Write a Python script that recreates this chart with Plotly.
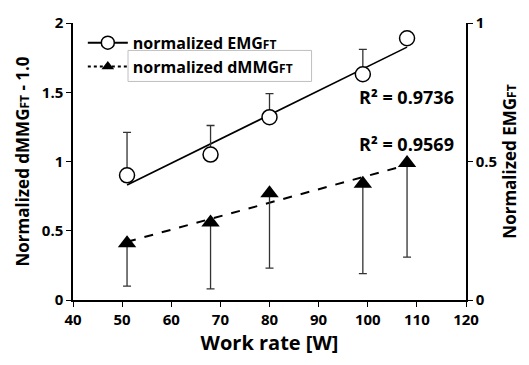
import plotly.graph_objects as go

# ---- data ----
work_rate = [51, 68, 80, 99, 108]
emg_norm = [0.45, 0.525, 0.66, 0.815, 0.945]          # right axis
emg_err_up = [0.155, 0.105, 0.085, 0.09, 0.0]
dmmg_norm = [0.41, 0.56, 0.77, 0.84, 0.99]            # left axis
dmmg_err_down = [0.31, 0.48, 0.54, 0.65, 0.68]
trend_x = [51, 108]
emg_trend = [0.415, 0.913]
dmmg_trend = [0.42, 0.975]
r2_labels = ["R² = 0.9736", "R² = 0.9569"]
x_ticks = [40, 50, 60, 70, 80, 90, 100, 110, 120]
y1_ticks = [0, 0.5, 1, 1.5, 2]
y2_ticks = [0, 0.5, 1]

FONT = "Open Sans"
sub = lambda s, fs: f"<span style='font-size:{fs}px'>{s}</span>"
bold = lambda v: f"<b>{v:g}</b>"

fig = go.Figure()

fig.add_trace(go.Scatter(x=trend_x, y=emg_trend, yaxis="y2", mode="lines",
                         line=dict(color="black", width=1.6), showlegend=False,
                         hoverinfo="skip"))
fig.add_trace(go.Scatter(x=trend_x, y=dmmg_trend, mode="lines",
                         line=dict(color="black", width=2, dash="dash"),
                         showlegend=False, hoverinfo="skip"))
fig.add_trace(go.Scatter(x=work_rate, y=emg_norm, yaxis="y2", mode="markers",
                         marker=dict(symbol="circle", size=15, color="white",
                                     line=dict(color="black", width=1.5)),
                         error_y=dict(type="data", symmetric=False, array=emg_err_up,
                                      arrayminus=[0]*5, color="#333333",
                                      thickness=1.3, width=4),
                         showlegend=False))
fig.add_trace(go.Scatter(x=work_rate, y=dmmg_norm, mode="markers",
                         marker=dict(symbol="triangle-up", size=16, color="black"),
                         error_y=dict(type="data", symmetric=False, array=[0]*5,
                                      arrayminus=dmmg_err_down, color="#333333",
                                      thickness=1.3, width=4),
                         showlegend=False))

fig.add_trace(go.Scatter(x=[None], y=[None], mode="lines+markers",
                         name="<b>normalized EMG" + sub("FT", 12) + "</b>",
                         line=dict(color="black", width=2),
                         marker=dict(symbol="circle", size=13, color="white",
                                     line=dict(color="black", width=1.5))))
fig.add_trace(go.Scatter(x=[None], y=[None], mode="lines+markers",
                         name="<b>normalized dMMG" + sub("FT", 12) + "</b>",
                         line=dict(color="black", width=2, dash="dot"),
                         marker=dict(symbol="triangle-up", size=11, color="black")))

tickfont = dict(family=FONT, size=15, color="black", weight=700)
yfont = dict(family=FONT, size=17, color="black")
fig.update_layout(
    width=529, height=365,
    margin=dict(l=73, r=62, t=16, b=65),
    paper_bgcolor="white", plot_bgcolor="white",
    font=dict(family=FONT, color="black"),
    xaxis=dict(range=[40, 120], tickvals=x_ticks, ticktext=[bold(v) for v in x_ticks],
               showgrid=False, zeroline=False,
               showline=True, linecolor="black", linewidth=1.5,
               ticks="outside", ticklen=5, tickcolor="black", tickfont=tickfont,
               title=dict(text="<b>Work rate [W]</b>",
                          font=dict(family=FONT, size=20, color="black"), standoff=6)),
    yaxis=dict(range=[0, 2], tickvals=y1_ticks, ticktext=[bold(v) for v in y1_ticks],
               showgrid=False, zeroline=False,
               showline=True, linecolor="black", linewidth=1.5,
               ticks="outside", ticklen=5, tickcolor="black", tickfont=tickfont,
               title=dict(text="<b>Normalized dMMG" + sub("FT", 12) + " - 1.0</b>",
                          font=yfont, standoff=8)),
    yaxis2=dict(range=[0, 1], tickvals=y2_ticks, ticktext=[bold(v) for v in y2_ticks],
                overlaying="y", side="right", showgrid=False, zeroline=False,
                showline=True, linecolor="black", linewidth=1.5,
                ticks="outside", ticklen=5, tickcolor="black", tickfont=tickfont,
                title=dict(text="<b>Normalized EMG" + sub("FT", 12) + "</b>",
                           font=yfont, standoff=8)),
    legend=dict(x=0.025, y=0.99, xanchor="left", yanchor="top",
                bgcolor="rgba(0,0,0,0)", borderwidth=0,
                font=dict(family=FONT, size=16, color="black"),
                tracegroupgap=0, itemwidth=40),
    shapes=[dict(type="rect", xref="paper", yref="paper",
                 x0=0.14, x1=0.607, y0=0.789, y1=0.901,
                 line=dict(color="#bfbfbf", width=1))],
    annotations=[
        dict(x=97.8, y=1.465, xref="x", yref="y", text="<b>" + r2_labels[0] + "</b>",
             showarrow=False, xanchor="left", yanchor="middle",
             font=dict(family=FONT, size=18, color="black")),
        dict(x=97.8, y=1.127, xref="x", yref="y", text="<b>" + r2_labels[1] + "</b>",
             showarrow=False, xanchor="left", yanchor="middle",
             font=dict(family=FONT, size=18, color="black")),
    ],
)

fig.write_html("out.html")
